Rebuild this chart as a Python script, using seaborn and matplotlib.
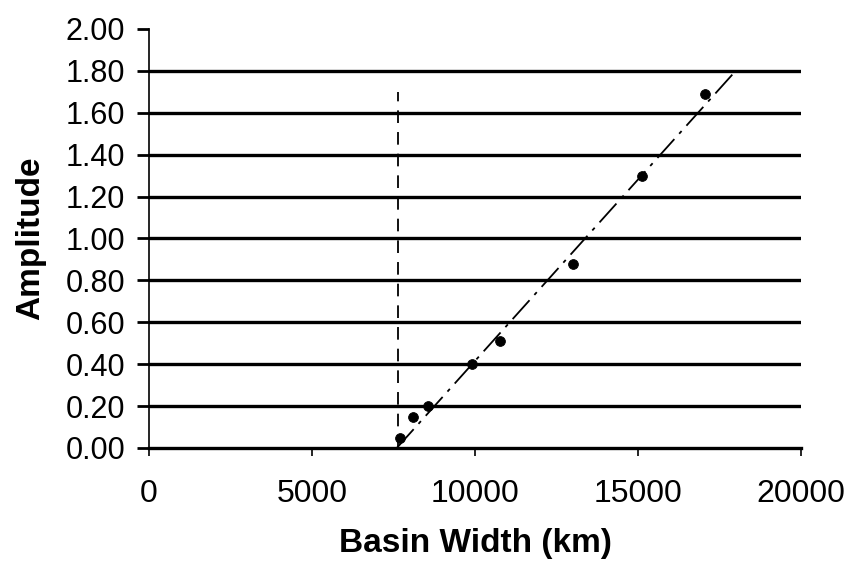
import matplotlib
matplotlib.use("Agg")
import matplotlib.pyplot as plt
import seaborn as sns
import pandas as pd

# data
basin_width = [7700, 8100, 8560, 9900, 10770, 13000, 15120, 17050]
amplitude = [0.05, 0.15, 0.20, 0.40, 0.51, 0.88, 1.30, 1.69]
fit_x = [7600, 18000]
fit_y = [0.0, 1.80]
threshold_x = [7650, 7650]
threshold_y = [0.0, 1.70]
x_ticks = [0, 5000, 10000, 15000, 20000]
y_ticks = [0.0, 0.2, 0.4, 0.6, 0.8, 1.0, 1.2, 1.4, 1.6, 1.8, 2.0]

sns.set_theme(style="white")
plt.rcParams['font.family'] = ['Liberation Sans', 'DejaVu Sans']
plt.rcParams['text.color'] = 'black'
plt.rcParams['axes.labelcolor'] = 'black'
plt.rcParams['xtick.color'] = 'black'
plt.rcParams['ytick.color'] = 'black'

fig = plt.figure(figsize=(8.52, 5.64), dpi=100)
ax = fig.add_axes([0.175, 0.2057, 0.765, 0.743])

# horizontal grid lines
for yv in y_ticks[1:-1]:
    ax.axhline(yv, color='black', lw=2.4, zorder=1)

df = pd.DataFrame({"x": basin_width, "y": amplitude})
sns.lineplot(x=fit_x, y=fit_y, ax=ax, color='black', lw=1.3,
             linestyle=(0, (14, 4, 2, 4)), zorder=2,
             estimator=None, sort=False)
sns.lineplot(x=threshold_x, y=threshold_y, ax=ax, color='black', lw=1.3,
             linestyle=(0, (7, 5)), zorder=2, estimator=None, sort=False)
sns.scatterplot(data=df, x="x", y="y", ax=ax, color='black', s=50,
                edgecolor='black', zorder=3)

ax.set_xlim(0, 20000)
ax.set_ylim(0, 2.0)
ax.set_xticks(x_ticks)
ax.set_yticks(y_ticks)
ax.set_yticklabels([f"{v:.2f}" for v in y_ticks])
ax.set_xticklabels([str(v) for v in x_ticks])

for s in ['top', 'right']:
    ax.spines[s].set_visible(False)
ax.spines['left'].set_linewidth(1.2)
ax.spines['bottom'].set_linewidth(2.4)
ax.spines['left'].set_color('black')
ax.spines['bottom'].set_color('black')

ax.tick_params(axis='y', direction='out', length=9, width=2.0, pad=8,
               labelsize=22, colors='black', left=True)
ax.tick_params(axis='x', direction='out', length=6, width=1.2, pad=16,
               labelsize=23, colors='black', bottom=True)

ax.set_xlabel("Basin Width (km)", fontsize=24, fontweight='bold', labelpad=14)
ax.set_ylabel("Amplitude", fontsize=24, fontweight='bold', labelpad=14)

fig.savefig("out.png", dpi=100, facecolor='white')
